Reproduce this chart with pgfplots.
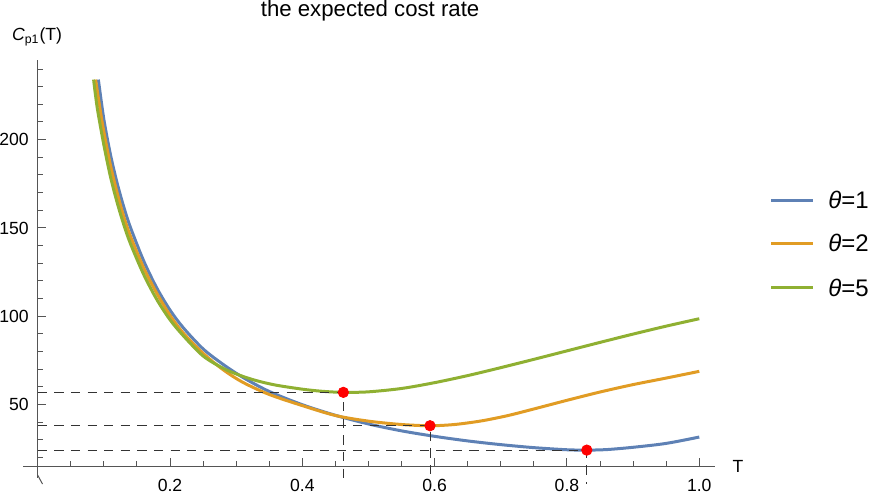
\documentclass[border=0pt]{standalone}
\usepackage{pgfplots}
\pgfplotsset{compat=1.18}
\usepackage{fontspec}
\setmainfont{Liberation Sans}
\definecolor{c1}{RGB}{94,129,181}
\definecolor{c2}{RGB}{225,156,36}
\definecolor{c3}{RGB}{143,176,50}
\definecolor{axgray}{RGB}{85,85,85}
\begin{document}
\begin{tikzpicture}
\useasboundingbox (-18.85pt,-13.5pt) rectangle (417.15pt,233pt);
\begin{axis}[
    at={(0pt,0pt)}, anchor=south west,
    scale only axis,
    width=338.4pt, height=203pt,
    xmin=0, xmax=1.023, ymin=15.2, ymax=245.1,
    axis lines=left,
    axis line style={-, draw=axgray, line width=0.5pt},
    tick align=inside,
    major tick length=4pt, minor tick length=2.4pt,
    tick style={axgray, line width=0.5pt},
    xtick={0.2,0.4,0.6,0.8,1.0},
    minor xtick={0.05,0.1,...,1.0},
    ytick={50,100,150,200},
    minor ytick={20,30,...,240},
    /pgf/number format/assume math mode=true,
    tick label style={font=\fontsize{8.8}{10}\selectfont, black},
    x tick label style={/pgf/number format/.cd, fixed, fixed zerofill, precision=1, /tikz/.cd},
    xticklabel style={yshift=-3.1pt},
    yticklabel style={xshift=-1pt},
    clip=false,
]
% theta = 1
\addplot[c1, line width=1.5pt, smooth] coordinates {
    (0.0917,234) (0.10,211.5) (0.11,191.5) (0.12,175.5) (0.13,162)
    (0.14,150.5) (0.16,131.5) (0.18,116) (0.20,103.5) (0.22,93.5)
    (0.25,81.5) (0.28,72.8) (0.31,65.4) (0.35,57.4) (0.40,49.9)
    (0.45,43.9) (0.50,39.0) (0.55,35.1) (0.60,32.0) (0.65,29.4)
    (0.70,27.3) (0.75,25.6) (0.80,24.4) (0.83,24.2) (0.86,24.5)
    (0.90,25.8) (0.95,28.0) (1.0,31.6)
};
% theta = 2
\addplot[c2, line width=1.5pt, smooth] coordinates {
    (0.0875,234) (0.095,215.5) (0.10,204.5) (0.11,185.5) (0.12,170)
    (0.13,156.5) (0.14,145.5) (0.16,127.5) (0.18,113) (0.20,100.5)
    (0.22,90.5) (0.25,79) (0.28,69.8) (0.31,62.6) (0.35,55.7)
    (0.40,49.4) (0.45,43.8) (0.50,40.6) (0.55,38.7) (0.593,38.0)
    (0.63,38.7) (0.67,40.7) (0.71,43.7) (0.75,47.5) (0.80,52.4)
    (0.85,57.1) (0.90,61.3) (0.95,65.0) (1.0,68.8)
};
% theta = 5
\addplot[c3, line width=1.5pt, smooth] coordinates {
    (0.0845,234) (0.09,218) (0.10,197) (0.11,179) (0.12,164.5)
    (0.13,152) (0.14,141.3) (0.16,123.8) (0.18,109.5) (0.20,98)
    (0.22,89) (0.25,77.5) (0.28,70.6) (0.303,66.9) (0.33,63.6)
    (0.36,61.0) (0.40,58.7) (0.43,57.5) (0.462,56.9) (0.50,57.2)
    (0.55,59.1) (0.60,62.4) (0.65,66.4) (0.70,70.9) (0.75,75.6)
    (0.80,80.4) (0.85,85.2) (0.90,89.9) (0.95,94.4) (1.0,98.6)
};
% guide lines to the minima
\addplot[black!80, line width=0.5pt, dash pattern=on 4.6pt off 3.7pt] coordinates {(0,56.9) (0.462,56.9) (0.462,5)};
\addplot[black!80, line width=0.5pt, dash pattern=on 4.6pt off 3.7pt] coordinates {(0,38.0) (0.593,38.0) (0.593,5)};
\addplot[black!80, line width=0.5pt, dash pattern=on 4.6pt off 3.7pt] coordinates {(0,24.2) (0.830,24.2) (0.830,5)};
\addplot[only marks, mark=*, mark size=2.6pt, mark options={draw=red, fill=red}] coordinates {
    (0.462,56.9) (0.593,38.0) (0.830,24.2)
};
% axis stubs past the crossing point
\draw[axgray, line width=0.5pt] (axis cs:-0.022,15.2) -- (axis cs:0,15.2);
\draw[axgray, line width=0.5pt] (axis cs:0,15.2) -- (axis cs:0,8.4);
\draw[axgray, line width=0.5pt] (axis cs:0,10) -- ++(2.4pt,0);
\end{axis}
\node[font=\fontsize{11.1}{13}\selectfont] at (166.2pt,227.5pt) {the expected cost rate};
\node[font=\fontsize{8.8}{10}\selectfont] at (-0.35pt,214.5pt) {\textit{C}\textsubscript{p1}(T)};
\node[font=\fontsize{8.8}{10}\selectfont] at (350.15pt,0pt) {T};
% legend
\draw[c1, line width=1.5pt] (366.65pt,133pt) -- (387.5pt,133pt);
\draw[c2, line width=1.5pt] (366.65pt,111.35pt) -- (387.5pt,111.35pt);
\draw[c3, line width=1.5pt] (366.65pt,89.15pt) -- (387.5pt,89.15pt);
\node[anchor=west, inner sep=0pt, font=\fontsize{12}{14}\selectfont] at (395.15pt,133pt) {\textit{θ}=1};
\node[anchor=west, inner sep=0pt, font=\fontsize{12}{14}\selectfont] at (395.15pt,111.35pt) {\textit{θ}=2};
\node[anchor=west, inner sep=0pt, font=\fontsize{12}{14}\selectfont] at (395.15pt,89.15pt) {\textit{θ}=5};
\end{tikzpicture}
\end{document}
